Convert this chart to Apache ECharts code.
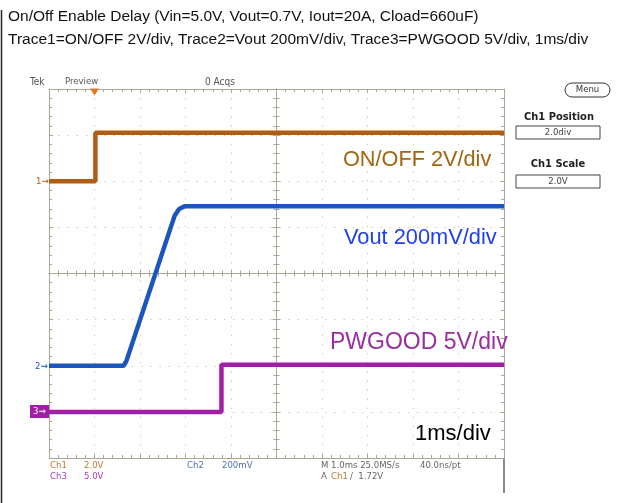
<!DOCTYPE html>
<html>
<head>
<meta charset="utf-8">
<script src="https://cdn.jsdelivr.net/npm/echarts@6/dist/echarts.min.js"></script>
<style>
  html, body { margin: 0; background: #fff; }
  #chart { width: 630px; height: 503px; }
</style>
</head>
<body>
<div id="chart"></div>
<script>
// time in ms (trigger = 0, 1ms/div), values in volts
const ch1Time = [-1, 0.02, 0.02, 9];
const ch1Volt = [0, 0, 2.1, 2.1];
const ch2Time = [-1, 0.64, 0.7, 1.76, 1.86, 1.98, 9];
const ch2Volt = [0, 0, 0.02, 0.65, 0.68, 0.692, 0.692];
const ch3Time = [-1, 2.79, 2.79, 9];
const ch3Volt = [0, 0, 5.1, 5.1];

const titleLines = [
  'On/Off Enable Delay (Vin=5.0V, Vout=0.7V, Iout=20A, Cload=660uF)',
  'Trace1=ON/OFF 2V/div, Trace2=Vout 200mV/div, Trace3=PWGOOD 5V/div, 1ms/div'
];

const C1 = '#b05c12', C2 = '#1a56bd', C3 = '#a11fa6';
const GRIDC = '#aca794';
const SMALL = 'DejaVu Sans Condensed, Liberation Sans Narrow, sans-serif';
const BIG = 'Liberation Sans, Arial, sans-serif';

const pair = (t, v) => t.map((x, i) => [x, v[i]]);

const chart = echarts.init(document.getElementById('chart'));

// frame axes (divisions) - border + centre cross with little ticks
function frameX(pos, inside, offset, split) {
  return {
    type: 'value', min: -1, max: 9, interval: 1, position: pos, offset: offset || 0,
    axisLine: { show: true, onZero: false, lineStyle: { color: GRIDC, width: 1 } },
    axisTick: { show: true, inside: inside, length: 4, lineStyle: { color: GRIDC } },
    minorTick: { show: true, splitNumber: 5, length: 3, lineStyle: { color: GRIDC } },
    axisLabel: { show: false },
    splitLine: { show: !!split, lineStyle: { color: '#cfcbbd', type: [1.5, 7.6] } }
  };
}
function frameY(pos, inside, offset, split) {
  return {
    type: 'value', min: 0, max: 8, interval: 1, position: pos, offset: offset || 0,
    axisLine: { show: true, onZero: false, lineStyle: { color: GRIDC, width: 1 } },
    axisTick: { show: true, inside: inside, length: 4, lineStyle: { color: GRIDC } },
    minorTick: { show: true, splitNumber: 5, length: 3, lineStyle: { color: GRIDC } },
    axisLabel: { show: false },
    splitLine: { show: !!split, lineStyle: { color: '#cfcbbd', type: [1.5, 7.7] } }
  };
}
function chanY(min, max) {
  return { type: 'value', min: min, max: max, show: false, axisLine: { onZero: false } };
}

const txt = (x, y, s, o) => Object.assign({
  type: 'text', x: x, y: y, z: 20,
  style: Object.assign({ text: s, fill: '#666', font: '9.5px ' + SMALL, textVerticalAlign: 'middle' }, o || {})
});

const option = {
  animation: false,
  grid: { left: 49, top: 89, width: 455, height: 369, show: false },
  xAxis: [
    frameX('bottom', true, 0, true),
    frameX('top', true, 0),
    frameX('bottom', true, -184.5),
    frameX('bottom', false, -184.5)
  ],
  yAxis: [
    frameY('left', true, 0, true),
    frameY('right', true, 0),
    frameY('left', true, -227.5),
    frameY('left', false, -227.5),
    chanY(-12, 4),    // ch1 2V/div, ground at +2 div
    chanY(-0.4, 1.2), // ch2 200mV/div
    chanY(-5, 35)     // ch3 5V/div
  ],
  series: [
    {
      type: 'line', name: 'ON/OFF', yAxisIndex: 4, data: pair(ch1Time, ch1Volt),
      showSymbol: false, lineStyle: { color: C1, width: 4.5 }, z: 5,
      markPoint: {
        symbol: 'triangle', symbolRotate: 180, symbolSize: [9, 7], symbolOffset: [0, 3],
        itemStyle: { color: '#e07820' }, label: { show: false },
        data: [{ coord: [0, 4] }]
      }
    },
    {
      type: 'line', name: 'Vout', yAxisIndex: 5, data: pair(ch2Time, ch2Volt),
      showSymbol: false, lineStyle: { color: C2, width: 4.5 }, z: 5
    },
    {
      type: 'line', name: 'PWGOOD', yAxisIndex: 6, data: pair(ch3Time, ch3Volt),
      showSymbol: false, lineStyle: { color: C3, width: 4.5 }, z: 5
    }
  ],
  graphic: [
    // outer frame lines
    { type: 'line', shape: { x1: 1.5, y1: 10, x2: 1.5, y2: 503 }, style: { stroke: '#222', lineWidth: 1.5 } },
    { type: 'line', shape: { x1: 504, y1: 458, x2: 504, y2: 493 }, style: { stroke: '#666', lineWidth: 1.5 } },
    // title
    txt(8, 17, titleLines[0], { fill: '#111', font: '15.5px ' + BIG }),
    txt(8, 40, titleLines[1], { fill: '#111', font: '15.5px ' + BIG }),
    // scope header
    txt(30, 82, 'Tek', { fill: '#555', font: '10px ' + SMALL }),
    txt(65, 82, 'Preview', { fill: '#555' }),
    txt(205, 82, '0 Acqs', { fill: '#555', font: '10px ' + SMALL }),
    // right panel
    { type: 'rect', shape: { x: 565, y: 83, width: 45, height: 14, r: 7 }, style: { fill: '#fff', stroke: '#333', lineWidth: 1 } },
    txt(587.5, 90, 'Menu', { fill: '#333', textAlign: 'center' }),
    txt(559, 117, 'Ch1 Position', { fill: '#222', textAlign: 'center', font: 'bold 11px ' + SMALL }),
    { type: 'rect', shape: { x: 516, y: 126, width: 84, height: 13 }, style: { fill: '#fff', stroke: '#444', lineWidth: 1 } },
    txt(558, 132.5, '2.0div', { fill: '#444', textAlign: 'center' }),
    txt(558, 164, 'Ch1 Scale', { fill: '#222', textAlign: 'center', font: 'bold 11px ' + SMALL }),
    { type: 'rect', shape: { x: 516, y: 175, width: 84, height: 13 }, style: { fill: '#fff', stroke: '#444', lineWidth: 1 } },
    txt(558, 181.5, '2.0V', { fill: '#444', textAlign: 'center' }),
    // ground markers
    txt(36, 182, '1\u2192', { fill: C1 }),
    txt(35, 367, '2\u2192', { fill: C2 }),
    { type: 'rect', shape: { x: 30, y: 405, width: 19, height: 13 }, style: { fill: C3 } },
    txt(33, 411.5, '3\u2192', { fill: '#fff' }),
    // trace labels
    txt(343, 160, 'ON/OFF 2V/div', { fill: '#a0660e', font: '21.7px ' + BIG }),
    txt(344, 238, 'Vout 200mV/div', { fill: '#1f3fe8', font: '21.8px ' + BIG }),
    txt(330, 343, 'PWGOOD 5V/div', { fill: '#9a2ea0', font: '23px ' + BIG }),
    txt(415, 434, '1ms/div', { fill: '#000', font: '22px ' + BIG }),
    // bottom readout
    txt(50, 466, 'Ch1', { fill: '#c07a30' }),
    txt(84, 466, '2.0V', { fill: '#c07a30' }),
    txt(50, 477, 'Ch3', { fill: '#a040b0' }),
    txt(84, 477, '5.0V', { fill: '#a040b0' }),
    txt(187, 466, 'Ch2', { fill: '#4a70b8' }),
    txt(222, 466, '200mV', { fill: '#4a70b8' }),
    txt(321, 466, 'M 1.0ms 25.0MS/s', { fill: '#666' }),
    txt(420, 466, '40.0ns/pt', { fill: '#666' }),
    txt(321, 477, 'A', { fill: '#666' }),
    txt(331, 477, 'Ch1', { fill: '#c07a30' }),
    txt(350, 477, '\u2215  1.72V', { fill: '#666' })
  ]
};
chart.setOption(option);
</script>
</body>
</html>
